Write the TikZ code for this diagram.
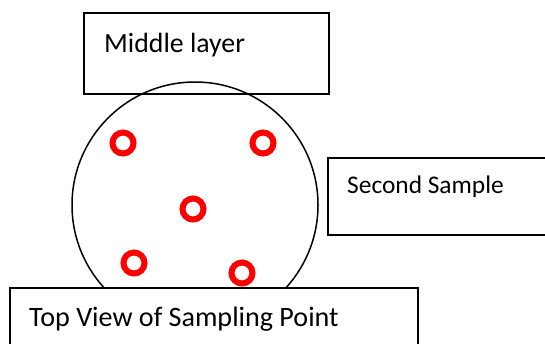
\documentclass[tikz,border=0pt]{standalone}
\usepackage{fontspec}
\setmainfont{Carlito}
\begin{document}
\begin{tikzpicture}[x=1pt,y=-1pt,
  box/.style={draw=black,line width=1.5pt,fill=white,rectangle,inner sep=0pt,anchor=north west},
  lbl/.style={anchor=base west,inner sep=0pt},
  ring/.style={draw=red,line width=6pt,circle,minimum size=21pt,inner sep=0pt}]
\useasboundingbox (0,0) rectangle (545,343);
\clip (0,0) rectangle (545,343);
\node[box,minimum width=245pt,minimum height=81pt] (mid) at (83,12) {};
\node[lbl,font=\fontsize{27.8}{30}\selectfont] (midt) at (104,52) {Middle layer};
\node[box,minimum width=240pt,minimum height=77pt] (sec) at (327,157) {};
\node[lbl,font=\fontsize{25.4}{30}\selectfont] (sect) at (347,193) {Second Sample};
\node[draw=black,line width=1.5pt,circle,minimum size=246pt,inner sep=0pt] (disc) at (195,205) {};
\node[box,minimum width=408pt,minimum height=80pt] (top) at (9,287) {};
\node[lbl,font=\fontsize{28.1}{30}\selectfont] (topt) at (29,326) {Top View of Sampling Point};
\node[ring] (r1) at (123,143) {};
\node[ring] (r2) at (263,143) {};
\node[ring] (r3) at (193,209) {};
\node[ring] (r4) at (134,263) {};
\node[ring] (r5) at (242,273) {};
\end{tikzpicture}
\end{document}
